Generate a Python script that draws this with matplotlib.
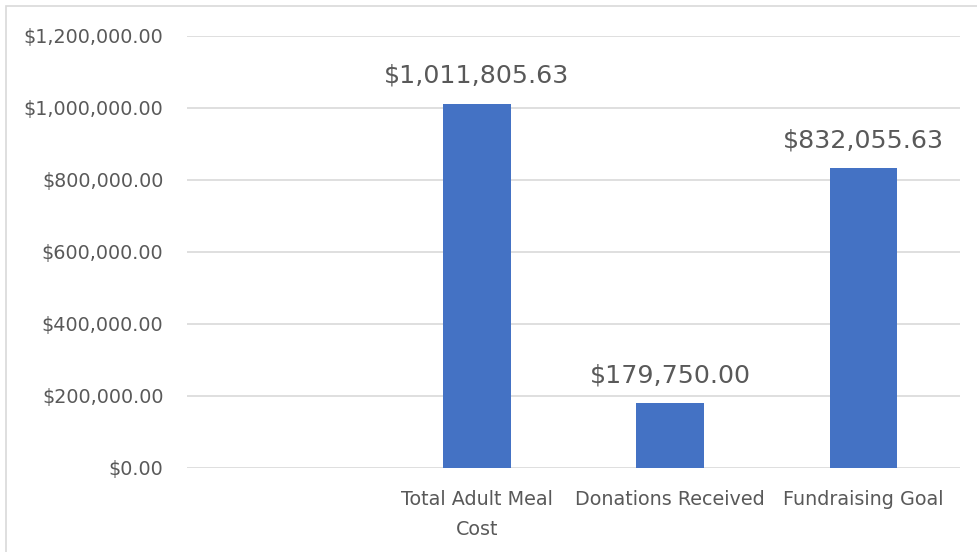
import matplotlib
matplotlib.use("Agg")
import matplotlib.pyplot as plt
from matplotlib.patches import Rectangle
from matplotlib.ticker import FuncFormatter

categories = ["", "Total Adult Meal\nCost", "Donations Received", "Fundraising Goal"]
values = [None, 1011805.63, 179750.00, 832055.63]
yticks = [0, 200000, 400000, 600000, 800000, 1000000, 1200000]

txt = '#595959'

fig = plt.figure(figsize=(9.77, 5.52), dpi=100)
ax = fig.add_axes([187/977, 1-468/552, 773/977, 432/552])

# outer chart frame
fig.patches.append(Rectangle((6/977, -0.1), 1.2, 1-6/552+0.1, transform=fig.transFigure,
                             fill=False, edgecolor='#D9D9D9', linewidth=1.2))

xs = [i for i, v in enumerate(values) if v is not None]
hs = [v for v in values if v is not None]
bars = ax.bar(xs, hs, width=0.35, color='#4472C4', zorder=3)
for x, h in zip(xs, hs):
    ax.text(x, h + 45000, "${:,.2f}".format(h), ha='center', va='bottom',
            fontsize=18.2, color=txt)

ax.set_xlim(-0.5, 3.5)
ax.set_ylim(0, 1200000)
ax.set_yticks(yticks)
ax.yaxis.set_major_formatter(FuncFormatter(lambda v, p: "${:,.2f}".format(v)))
ax.set_xticks(range(len(categories)))
ax.set_xticklabels(categories, linespacing=1.75)
ax.tick_params(axis='both', length=0, labelsize=13.8, colors=txt)
ax.tick_params(axis='y', pad=17)
ax.tick_params(axis='x', pad=16)
ax.grid(axis='y', color='#D9D9D9', linewidth=1.2, zorder=0)
for s in ax.spines.values():
    s.set_visible(False)

fig.savefig("out.png", dpi=100)
